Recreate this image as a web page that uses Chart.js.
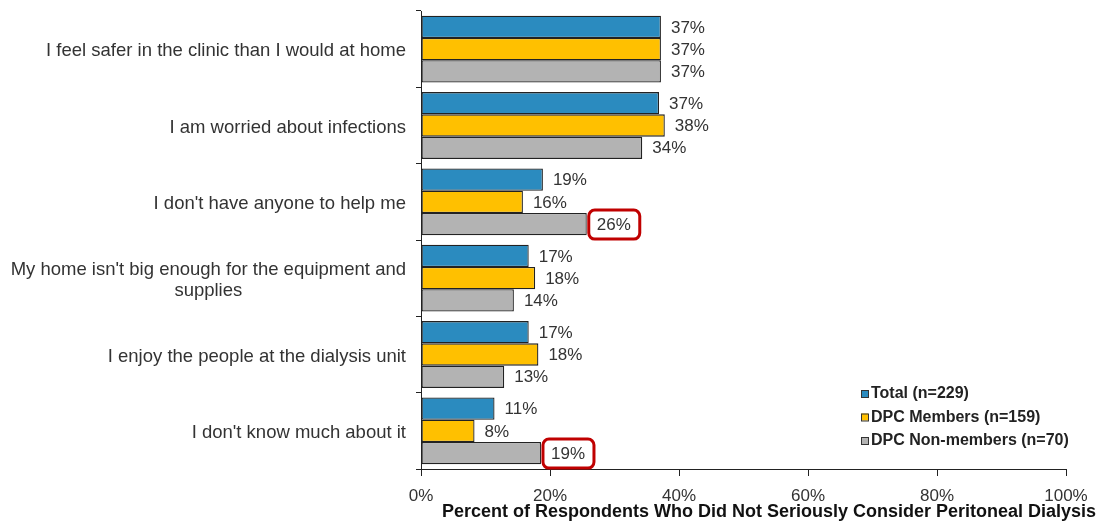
<!DOCTYPE html>
<html>
<head>
<meta charset="utf-8">
<script src="https://cdn.jsdelivr.net/npm/chart.js@4.4.1/dist/chart.umd.min.js"></script>
<style>
html, body { margin: 0; padding: 0; background: #fff; }
</style>
</head>
<body>
<canvas id="chart" width="1114" height="521"></canvas>
<script>
const categories = [
    'I feel safer in the clinic than I would at home',
    'I am worried about infections',
    "I don't have anyone to help me",
    ["My home isn't big enough for the equipment and", 'supplies'],
    'I enjoy the people at the dialysis unit',
    "I don't know much about it"
];
const seriesNames = ['Total (n=229)', 'DPC Members (n=159)', 'DPC Non-members (n=70)'];
const totalValues = [37.2, 36.9, 18.9, 16.7, 16.7, 11.4];
const memberValues = [37.2, 37.8, 15.8, 17.7, 18.2, 8.3];
const nonMemberValues = [37.2, 34.3, 25.7, 14.4, 12.9, 18.6];
const xTicks = [0, 20, 40, 60, 80, 100];
// [series, category] of the labels with a red box round them
const boxedLabels = [[2, 2], [2, 5]];
const axisTitle = 'Percent of Respondents Who Did Not Seriously Consider Peritoneal Dialysis';

const colors = ['#2b8bbf', '#ffc000', '#b3b3b3'];
const textColor = '#333333';
const FONT = 'Arial, "Liberation Sans", sans-serif';

const overlay = {
    id: 'overlay',
    afterDatasetsDraw(chart) {
        const ctx = chart.ctx;
        const area = chart.chartArea;
        const yScale = chart.scales.y;
        ctx.save();
        ctx.fillStyle = textColor;
        ctx.textBaseline = 'middle';

        // category labels, each block right aligned, lines centred in it
        ctx.font = '18.5px ' + FONT;
        categories.forEach((cat, i) => {
            const lines = Array.isArray(cat) ? cat : [cat];
            const y = yScale.getPixelForValue(i) + 2;
            const w = Math.max(...lines.map(l => ctx.measureText(l).width));
            const right = area.left - 15;
            ctx.textAlign = 'center';
            lines.forEach((l, k) => {
                ctx.fillText(l, right - w / 2, y + (k - (lines.length - 1) / 2) * 21);
            });
        });

        // value labels
        ctx.font = '17px ' + FONT;
        ctx.textAlign = 'left';
        chart.data.datasets.forEach((ds, di) => {
            const meta = chart.getDatasetMeta(di);
            meta.data.forEach((bar, i) => {
                const txt = Math.round(ds.data[i]) + '%';
                ctx.fillStyle = textColor;
                ctx.fillText(txt, bar.x + 10, bar.y + 1);
                const boxed = boxedLabels.some(b => b[0] === di && b[1] === i);
                if (boxed) {
                    ctx.strokeStyle = '#c00000';
                    ctx.lineWidth = 3;
                    ctx.beginPath();
                    ctx.roundRect(bar.x + 2, bar.y - 14, 51, 29, 6);
                    ctx.stroke();
                }
            });
        });

        // legend
        ctx.font = 'bold 16px ' + FONT;
        const lx = area.left + 440;
        const ly = area.bottom - 75;
        seriesNames.forEach((name, i) => {
            const y = ly + i * 23.5;
            ctx.fillStyle = colors[i];
            ctx.fillRect(lx, y - 4, 7, 7);
            ctx.strokeStyle = '#333';
            ctx.lineWidth = 1;
            ctx.strokeRect(lx + 0.5, y - 3.5, 7, 7);
            ctx.fillStyle = '#222';
            ctx.fillText(name, lx + 10, y);
        });

        // axis title
        ctx.font = 'bold 18px ' + FONT;
        ctx.fillStyle = '#111';
        ctx.textAlign = 'center';
        ctx.fillText(axisTitle, 769, 512);
        ctx.restore();
    }
};

new Chart(document.getElementById('chart'), {
    type: 'bar',
    data: {
        labels: categories.map(c => Array.isArray(c) ? c.join(' ') : c),
        datasets: [
            { label: seriesNames[0], data: totalValues, backgroundColor: colors[0] },
            { label: seriesNames[1], data: memberValues, backgroundColor: colors[1] },
            { label: seriesNames[2], data: nonMemberValues, backgroundColor: colors[2] }
        ].map(d => Object.assign(d, {
            borderColor: '#222',
            borderWidth: 1.3,
            borderSkipped: false,
            categoryPercentage: 0.875,
            barPercentage: 1
        }))
    },
    options: {
        indexAxis: 'y',
        responsive: false,
        animation: false,
        devicePixelRatio: 1,
        layout: { padding: { top: 11, right: 48, left: 0, bottom: 0 } },
        plugins: {
            legend: { display: false },
            tooltip: { enabled: false }
        },
        scales: {
            x: {
                min: 0,
                max: 100,
                afterBuildTicks: scale => {
                    scale.ticks = xTicks.map(v => ({ value: v }));
                },
                afterFit: scale => { scale.height = 52; },
                ticks: {
                    color: textColor,
                    font: { size: 17, family: FONT },
                    padding: 10,
                    callback: v => v + '%'
                },
                grid: { drawOnChartArea: false, tickLength: 7, color: '#222' },
                border: { color: '#222' }
            },
            y: {
                afterFit: scale => { scale.width = 421; },
                ticks: { display: false },
                grid: { drawOnChartArea: false, tickLength: 5, color: '#222', offset: true },
                border: { color: '#222' }
            }
        }
    },
    plugins: [overlay]
});
</script>
</body>
</html>
